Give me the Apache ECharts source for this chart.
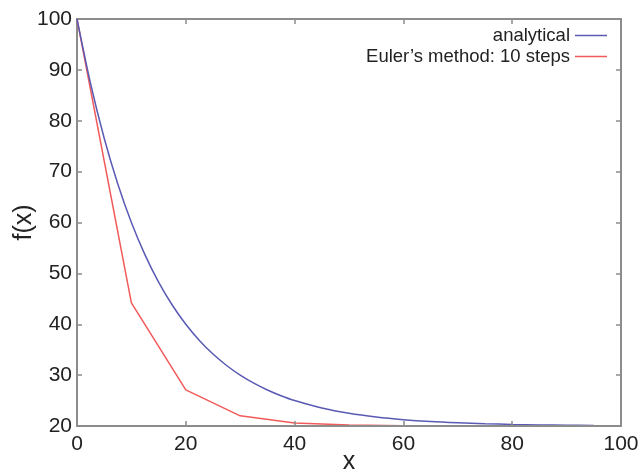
<!DOCTYPE html>
<html>
<head>
<meta charset="utf-8">
<script src="https://cdn.jsdelivr.net/npm/echarts@6/dist/echarts.min.js"></script>
<style>html,body{margin:0;padding:0;background:#fff}#c{width:642px;height:472px}</style>
</head>
<body>
<div id="c"></div>
<script>
// Values
var analyticalX = [0, 2.5, 5, 7.5, 10, 12.5, 15, 17.5, 20, 22.5, 25, 27.5, 30, 32.5, 35, 37.5, 40, 45, 50, 55, 60, 65, 70, 75, 80, 85, 90, 95];
var analyticalY = [100, 87.27, 76.57, 67.57, 60.0, 53.64, 48.28, 43.78, 40.0, 36.82, 34.14, 31.89, 30.0, 28.41, 27.07, 25.95, 25.0, 23.54, 22.5, 21.77, 21.25, 20.88, 20.63, 20.44, 20.31, 20.22, 20.16, 20.11];
var eulerX = [0, 10, 20, 30, 40, 50, 60, 70, 80, 90, 100];
var eulerY = [100, 44.2, 27.1, 22.0, 20.6, 20.2, 20.06, 20.02, 20.01, 20.0, 20.0];
var seriesNames = ['analytical', 'Euler\u2019s method: 10 steps'];
var xTicks = {min: 0, max: 100, interval: 20};
var yTicks = {min: 20, max: 100, interval: 10};

function pairs(xs, ys) { return xs.map(function (x, i) { return [x, ys[i]]; }); }

var font = 'Liberation Sans, Arial, Helvetica, sans-serif';
var axisGray = '#8c8c8c';
var chart = echarts.init(document.getElementById('c'), null, {renderer: 'canvas'});
chart.setOption({
  animation: false,
  backgroundColor: '#fff',
  textStyle: {fontFamily: font},
  grid: {left: 77, right: 21, top: 19, bottom: 46, containLabel: false, outerBoundsMode: 'none'},
  legend: {
    orient: 'vertical', right: 30, top: 21, align: 'right',
    itemWidth: 32, itemHeight: 1.5, itemGap: 2, icon: 'rect',
    textStyle: {fontFamily: font, fontSize: 18.5, color: '#222'},
    data: seriesNames
  },
  xAxis: [{
    type: 'value', min: xTicks.min, max: xTicks.max, interval: xTicks.interval,
    name: 'x', nameLocation: 'middle', nameGap: 24, nameMoveOverlap: false,
    nameTextStyle: {fontFamily: font, fontSize: 25, color: '#222'},
    axisLine: {show: true, lineStyle: {color: axisGray, width: 2}},
    axisTick: {show: true, inside: true, length: 5, lineStyle: {color: axisGray, width: 1.5}},
    axisLabel: {fontFamily: font, fontSize: 21, color: '#222', margin: 8},
    splitLine: {show: false}, z: 3
  }, {
    type: 'value', position: 'top', min: xTicks.min, max: xTicks.max, interval: xTicks.interval,
    axisLine: {show: true, onZero: false, lineStyle: {color: axisGray, width: 2}},
    axisTick: {show: true, inside: true, length: 5, lineStyle: {color: axisGray, width: 1.5}},
    axisLabel: {show: false}, splitLine: {show: false}
  }],
  yAxis: [{
    type: 'value', min: yTicks.min, max: yTicks.max, interval: yTicks.interval,
    name: 'f(x)', nameLocation: 'middle', nameGap: 40, nameRotate: 90, nameMoveOverlap: false,
    nameTextStyle: {fontFamily: font, fontSize: 25, color: '#222'},
    axisLine: {show: true, onZero: false, lineStyle: {color: axisGray, width: 2}},
    axisTick: {show: true, inside: true, length: 5, lineStyle: {color: axisGray, width: 1.5}},
    axisLabel: {fontFamily: font, fontSize: 21, color: '#222', margin: 5},
    splitLine: {show: false}
  }, {
    type: 'value', position: 'right', min: yTicks.min, max: yTicks.max, interval: yTicks.interval,
    axisLine: {show: true, onZero: false, lineStyle: {color: axisGray, width: 2}},
    axisTick: {show: true, inside: true, length: 5, lineStyle: {color: axisGray, width: 1.5}},
    axisLabel: {show: false}, splitLine: {show: false}
  }],
  series: [{
    name: seriesNames[1], type: 'line', data: pairs(eulerX, eulerY),
    showSymbol: false, symbol: 'none',
    lineStyle: {color: '#f25a5a', width: 1.5}, itemStyle: {color: '#f25a5a'}, z: 2
  }, {
    name: seriesNames[0], type: 'line', data: pairs(analyticalX, analyticalY),
    showSymbol: false, symbol: 'none', smooth: 0.3,
    lineStyle: {color: '#5a5ab4', width: 1.5}, itemStyle: {color: '#5a5ab4'}, z: 2
  }]
});
</script>
</body>
</html>
